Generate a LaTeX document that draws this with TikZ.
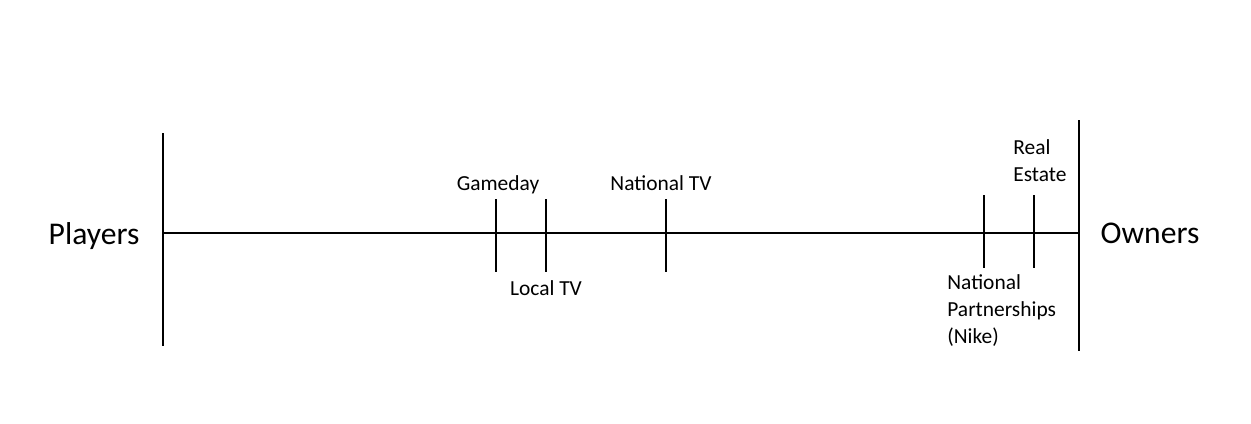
\documentclass[tikz,border=0pt]{standalone}
\usepackage{fontspec}
\setmainfont{Carlito}

\begin{document}
\begin{tikzpicture}
      [   x=0.02cm,y=-0.02cm,
          axis/.style={line width=0.05cm},
          side/.style={font=\fontsize{18}{22}\selectfont,inner sep=0pt},
          lbl/.style={font=\fontsize{12.2}{15.4}\selectfont,inner sep=0pt,align=left},
      ]
          \useasboundingbox (0,0) rectangle (1251,423);
          % the two ends
          \coordinate (players-top) at (163,133);
          \coordinate (players-bot) at (163,346);
          \coordinate (owners-top) at (1079,120);
          \coordinate (owners-bot) at (1079,351);
          \coordinate (players-mid) at (163,233);
          \coordinate (owners-mid) at (1079,233);
          \draw[axis] (players-top) -- (players-bot);
          \draw[axis] (owners-top) -- (owners-bot);
          \draw[axis] (players-mid) -- (owners-mid);
          \node[side,anchor=base] (players) at (94,244) {Players};
          \node[side,anchor=base] (owners) at (1150,243) {Owners};
          % ticks on the line
          \foreach \n/\x/\t/\b in {gameday/496/199/272,localtv/546/199/272,nationaltv/666/199/272,partner/984/195/268,estate/1034/195/268}
          {   \coordinate (\n-top) at (\x,\t);
              \coordinate (\n-bot) at (\x,\b);
              \draw[axis] (\n-top) -- (\n-bot);
          }
          \node[lbl,anchor=base] (gameday) at (498,190) {Gameday};
          \node[lbl,anchor=base] (nationaltv) at (661,190) {National TV};
          \node[lbl,anchor=base] (localtv) at (546,295) {Local TV};
          \node[lbl,anchor=north west] (estate) at (1013,139) {Real\\Estate};
          \node[lbl,anchor=north west] (partner) at (947,274) {National\\Partnerships\\(Nike)};
    \end{tikzpicture}
\end{document}
